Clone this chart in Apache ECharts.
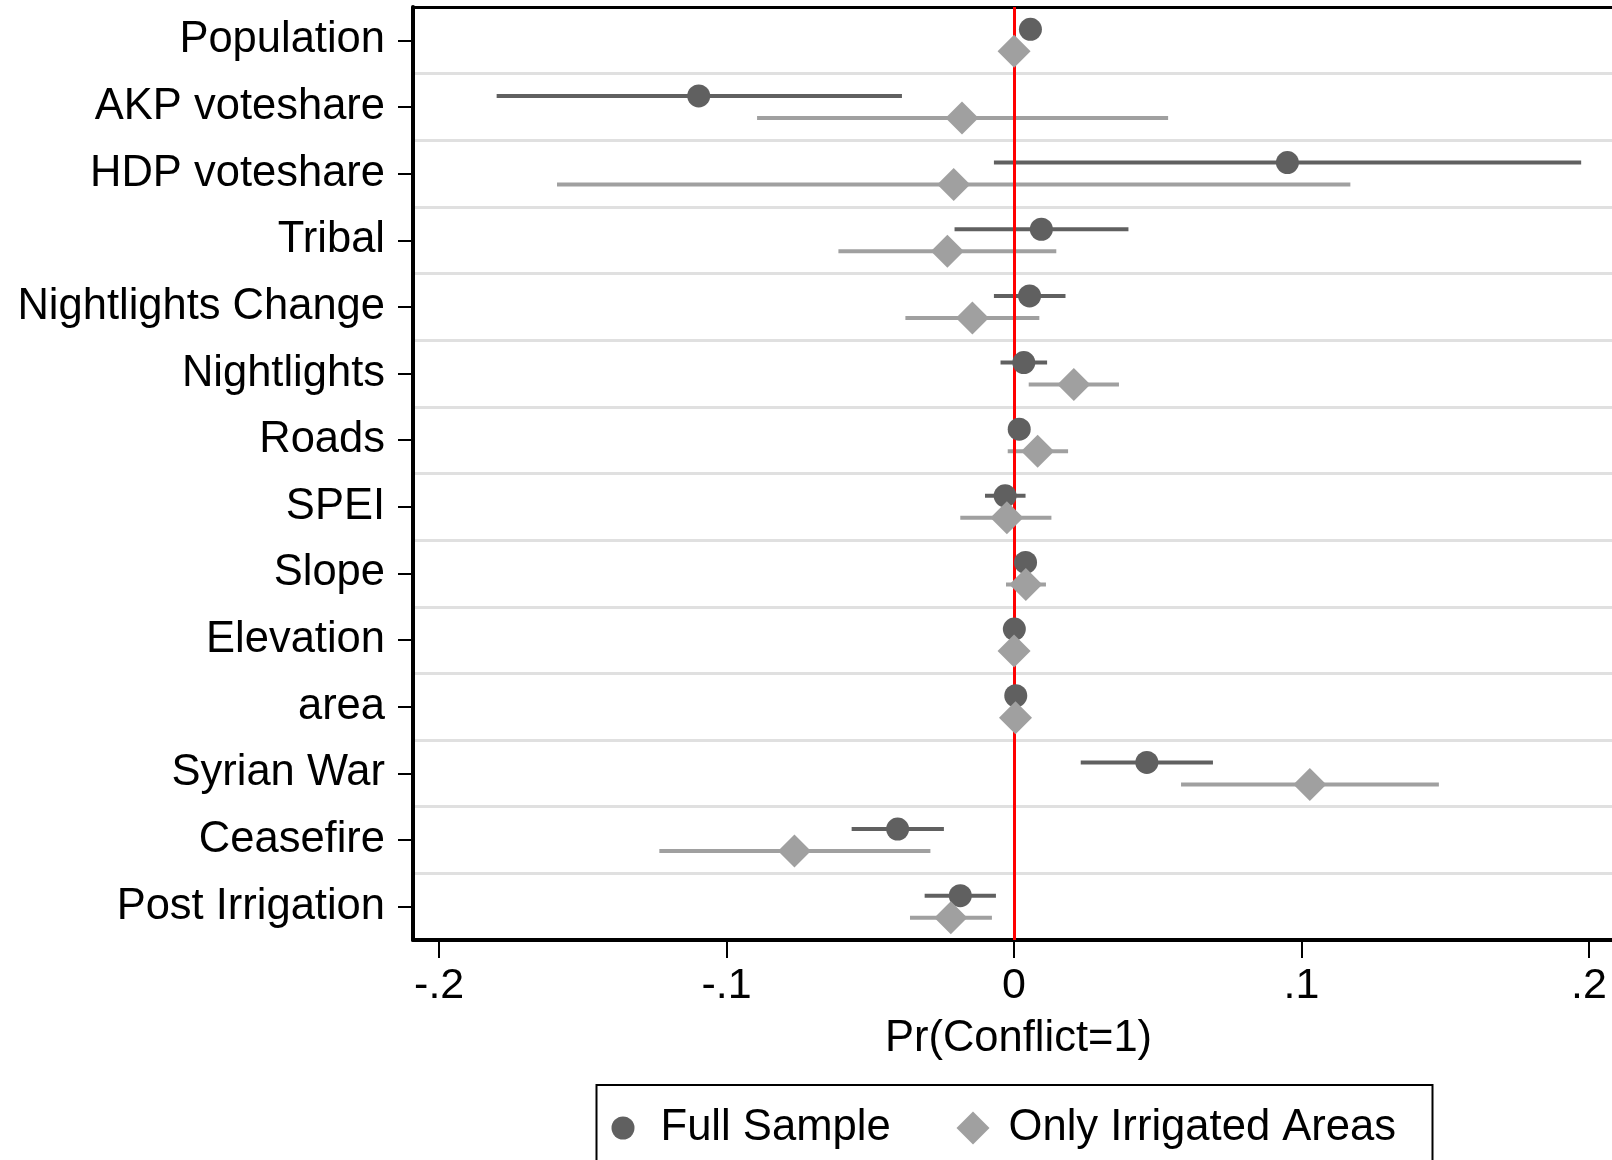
<!DOCTYPE html>
<html>
<head>
<meta charset="utf-8">
<script src="https://cdn.jsdelivr.net/npm/echarts@6/dist/echarts.min.js"></script>
<style>
  html, body { margin: 0; padding: 0; background: #fff; }
  #main { width: 1612px; height: 1160px; }
</style>
</head>
<body>
<div id="main"></div>
<script>
// variables, top to bottom
var categories = ["Population", "AKP voteshare", "HDP voteshare", "Tribal",
  "Nightlights Change", "Nightlights", "Roads", "SPEI", "Slope", "Elevation",
  "area", "Syrian War", "Ceasefire", "Post Irrigation"];

// Full Sample: estimate and 95% CI
var fullEst = [0.0057, -0.1097, 0.0951, 0.0095, 0.0054, 0.0034, 0.0018, -0.0031, 0.0040, 0.0001, 0.0006, 0.0462, -0.0405, -0.0187];
var fullLo  = [0.0030, -0.1800, -0.0070, -0.0207, -0.0070, -0.0047, -0.0005, -0.0101, 0.0010, -0.0005, 0.0000, 0.0232, -0.0565, -0.0311];
var fullHi  = [0.0085, -0.0390, 0.1973, 0.0398, 0.0179, 0.0115, 0.0041, 0.0040, 0.0070, 0.0007, 0.0012, 0.0692, -0.0244, -0.0063];

// Only Irrigated Areas
var irrEst = [0.0000, -0.0181, -0.0210, -0.0232, -0.0145, 0.0208, 0.0082, -0.0025, 0.0041, 0.0000, 0.0005, 0.1029, -0.0764, -0.0220];
var irrLo  = [-0.0010, -0.0894, -0.1590, -0.0611, -0.0378, 0.0051, -0.0022, -0.0187, -0.0028, -0.0008, -0.0003, 0.0581, -0.1234, -0.0362];
var irrHi  = [0.0010, 0.0536, 0.1170, 0.0147, 0.0088, 0.0365, 0.0188, 0.0130, 0.0111, 0.0008, 0.0013, 0.1478, -0.0291, -0.0077];

var xTicks = [-0.2, -0.1, 0, 0.1, 0.2];
var xMin = -0.2091, xMax = 0.2122;

var FONT = "'Liberation Sans', Arial, Helvetica, sans-serif";
var DARK = "#606060", LIGHT = "#a0a0a0";

function ciRows(lo, hi) {
  return lo.map(function (v, i) { return [v, hi[i], i]; });
}
function pointRows(est) {
  return est.map(function (v, i) { return [v, i]; });
}
function ciRenderer(color, offset) {
  return function (params, api) {
    var p1 = api.coord([api.value(0), api.value(2)]);
    var p2 = api.coord([api.value(1), api.value(2)]);
    var y = p1[1] + offset;
    return {
      type: "line",
      shape: { x1: p1[0], y1: y, x2: p2[0], y2: y },
      style: { stroke: color, lineWidth: 4 }
    };
  };
}

var chart = echarts.init(document.getElementById("main"));

var option = {
  animation: false,
  backgroundColor: "#fff",
  textStyle: { fontFamily: FONT },
  grid: {
    left: 413, right: -12, top: 7, bottom: 220,
    containLabel: false,
    outerBoundsMode: "none"
  },
  xAxis: [{
    type: "value",
    min: xMin, max: xMax,
    position: "bottom",
    z: 3,
    name: "Pr(Conflict=1)",
    nameLocation: "middle",
    nameGap: 77,
    nameTextStyle: { fontSize: 43.5, color: "#000", fontFamily: FONT },
    axisLine: { show: true, onZero: false, lineStyle: { color: "#000", width: 4 } },
    axisTick: { show: true, length: 18, customValues: xTicks, lineStyle: { color: "#000", width: 2 } },
    axisLabel: {
      customValues: xTicks,
      margin: 25,
      fontSize: 43, color: "#000", fontFamily: FONT,
      formatter: function (v) {
        if (Math.abs(v) < 1e-9) return "0";
        return String(Math.round(v * 10) / 10).replace("0.", ".");
      }
    },
    splitLine: { show: false }
  }, {
    type: "value",
    min: xMin, max: xMax,
    position: "top",
    z: 3,
    axisLine: { show: true, onZero: false, lineStyle: { color: "#000", width: 3 } },
    axisTick: { show: false },
    axisLabel: { show: false },
    splitLine: { show: false }
  }],
  yAxis: {
    type: "category",
    data: categories,
    inverse: true,
    axisLine: { show: true, onZero: false, lineStyle: { color: "#000", width: 4 } },
    axisTick: { show: true, alignWithLabel: true, length: 15, lineStyle: { color: "#000", width: 2 } },
    axisLabel: { margin: 28, fontSize: 43.5, color: "#000", fontFamily: FONT },
    splitLine: { show: true, lineStyle: { color: "#e0e0e0", width: 3 } }
  },
  legend: [{
    data: ["Full Sample"],
    left: 611.5, top: 1106, padding: 0,
    itemWidth: 23, itemHeight: 23,
    selectedMode: false,
    textStyle: { fontSize: 43.6, color: "#000", fontFamily: FONT, padding: [0, 0, 0, 21] }
  }, {
    data: ["Only Irrigated Areas"],
    left: 956.5, top: 1106, padding: 0,
    itemWidth: 33, itemHeight: 33,
    selectedMode: false,
    textStyle: { fontSize: 43.6, color: "#000", fontFamily: FONT, padding: [0, 0, 0, 14] }
  }],
  graphic: [{
    type: "rect",
    shape: { x: 596.5, y: 1085, width: 836, height: 120 },
    style: { fill: "none", stroke: "#000", lineWidth: 2 },
    silent: true
  }],
  series: [{
    name: "Full Sample CI",
    type: "custom",
    z: 2,
    renderItem: ciRenderer(DARK, -11),
    encode: { x: [0, 1], y: 2 },
    data: ciRows(fullLo, fullHi)
  }, {
    name: "Irrigated CI",
    type: "custom",
    z: 2,
    renderItem: ciRenderer(LIGHT, 11),
    encode: { x: [0, 1], y: 2 },
    data: ciRows(irrLo, irrHi)
  }, {
    name: "Full Sample",
    type: "scatter",
    z: 10,
    symbol: "circle",
    symbolSize: 23,
    symbolOffset: [0, -11],
    itemStyle: { color: DARK, opacity: 1 },
    data: pointRows(fullEst),
    markLine: {
      silent: true,
      z: 5,
      symbol: ["none", "none"],
      label: { show: false },
      lineStyle: { color: "#ff0000", width: 3, type: "solid" },
      data: [{ xAxis: 0 }]
    }
  }, {
    name: "Only Irrigated Areas",
    type: "scatter",
    z: 11,
    symbol: "diamond",
    symbolSize: 33,
    symbolOffset: [0, 11],
    itemStyle: { color: LIGHT, opacity: 1 },
    data: pointRows(irrEst)
  }]
};

chart.setOption(option);
</script>
</body>
</html>
